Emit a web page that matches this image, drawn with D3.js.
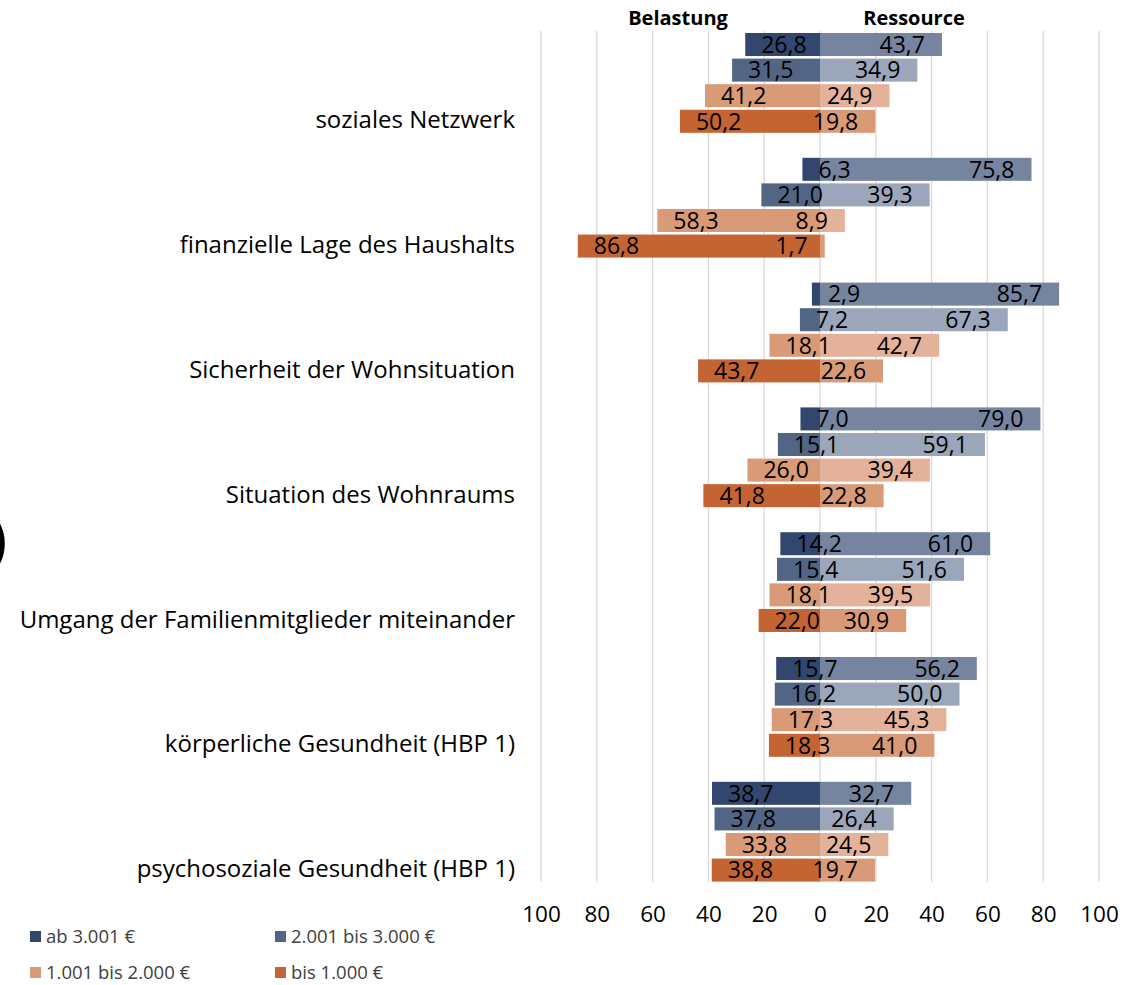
<!DOCTYPE html>
<html>
<head>
<meta charset="utf-8">
<script src="https://cdn.jsdelivr.net/npm/d3@7"></script>
<style>
  html, body { margin: 0; padding: 0; background: #fff; }
  svg { display: block; font-family: "Open Sans", "Noto Sans", sans-serif; }
</style>
</head>
<body>
<svg id="chart" width="1143" height="985"></svg>
<script>
// Lebensbereiche (von oben nach unten)
const categories = [
  "soziales Netzwerk",
  "finanzielle Lage des Haushalts",
  "Sicherheit der Wohnsituation",
  "Situation des Wohnraums",
  "Umgang der Familienmitglieder miteinander",
  "körperliche Gesundheit (HBP 1)",
  "psychosoziale Gesundheit (HBP 1)"
];

// Einkommensgruppen
const groups = ["ab 3.001 €", "2.001 bis 3.000 €", "1.001 bis 2.000 €", "bis 1.000 €"];

// Anteil "Belastung" in % je Bereich, Reihenfolge wie groups
const belastung = [
  [26.8, 31.5, 41.2, 50.2],
  [6.3, 21.0, 58.3, 86.8],
  [2.9, 7.2, 18.1, 43.7],
  [7.0, 15.1, 26.0, 41.8],
  [14.2, 15.4, 18.1, 22.0],
  [15.7, 16.2, 17.3, 18.3],
  [38.7, 37.8, 33.8, 38.8]
];

// Anteil "Ressource" in % je Bereich
const ressource = [
  [43.7, 34.9, 24.9, 19.8],
  [75.8, 39.3, 8.9, 1.7],
  [85.7, 67.3, 42.7, 22.6],
  [79.0, 59.1, 39.4, 22.8],
  [61.0, 51.6, 39.5, 30.9],
  [56.2, 50.0, 45.3, 41.0],
  [32.7, 26.4, 24.5, 19.7]
];

const tickValues = [-100, -80, -60, -40, -20, 0, 20, 40, 60, 80, 100];

const colorsLeft  = ["#32466E", "#536584", "#D99A78", "#C46432"];
const colorsRight = ["#76849F", "#9BA6BB", "#E4B29A", "#D99A78"];

const svg = d3.select("#chart");
const fmt = v => d3.format(".1f")(v).replace(".", ",");

const x = d3.scaleLinear().domain([-100, 100]).range([541, 1099]);
const yCat = d3.scaleBand().domain(categories).range([33, 906.6]).padding(0);
const yRow = d3.scaleBand().domain(groups).range([0, 99.8]).paddingInner(0.1).paddingOuter(0);

const gridTop = 31, gridBottom = 882;

// vertical gridlines
svg.append("g").selectAll("line")
  .data(tickValues)
  .join("line")
  .attr("x1", d => x(d)).attr("x2", d => x(d))
  .attr("y1", gridTop).attr("y2", gridBottom)
  .attr("stroke", "#D9D9D9").attr("stroke-width", 1.3);

// x axis tick labels (absolute values)
const axis = d3.axisBottom(x).tickValues(tickValues).tickFormat(d => Math.abs(d)).tickSize(0).tickPadding(0);
const gAxis = svg.append("g").attr("transform", `translate(0, ${gridBottom + 24})`).call(axis);
gAxis.select(".domain").remove();
gAxis.selectAll("text")
  .attr("font-size", 22.5).attr("fill", "#000")
  .attr("font-family", "'Open Sans', sans-serif")
  .attr("dy", "0.71em");

// flat records for bars
const recs = [];
categories.forEach((c, ci) => {
  groups.forEach((g, gi) => {
    recs.push({ c, g, gi, left: belastung[ci][gi], right: ressource[ci][gi] });
  });
});

const barY = d => yCat(d.c) + yRow(d.g);
const bh = yRow.bandwidth();

const gBars = svg.append("g");
// Belastung (links)
gBars.selectAll("rect.left")
  .data(recs).join("rect").attr("class", "left")
  .attr("x", d => x(-d.left))
  .attr("width", d => x(0) - x(-d.left))
  .attr("y", barY).attr("height", bh)
  .attr("fill", d => colorsLeft[d.gi]);
// Ressource (rechts)
gBars.selectAll("rect.right")
  .data(recs).join("rect").attr("class", "right")
  .attr("x", x(0))
  .attr("width", d => x(d.right) - x(0))
  .attr("y", barY).attr("height", bh)
  .attr("fill", d => colorsRight[d.gi]);

// value labels, inside end of each bar
const gLab = svg.append("g").attr("font-size", 23).attr("fill", "#000");
gLab.selectAll("text.l")
  .data(recs).join("text").attr("class", "l")
  .attr("x", d => x(-d.left) + 16)
  .attr("y", d => barY(d) + bh / 2)
  .attr("dy", "0.36em")
  .attr("text-anchor", "start")
  .text(d => fmt(d.left));
gLab.selectAll("text.r")
  .data(recs).join("text").attr("class", "r")
  .attr("x", d => x(d.right) - 17)
  .attr("y", d => barY(d) + bh / 2)
  .attr("dy", "0.36em")
  .attr("text-anchor", "end")
  .text(d => fmt(d.right));

// category labels
svg.append("g").selectAll("text")
  .data(categories).join("text")
  .attr("x", 515)
  .attr("y", d => yCat(d) + yRow(groups[3]) + bh / 2)
  .attr("dy", "0.3em")
  .attr("text-anchor", "end")
  .attr("font-size", 24)
  .attr("fill", "#000")
  .text(d => d);

// headers
svg.append("text").attr("x", 678).attr("y", 25).attr("text-anchor", "middle")
  .attr("font-size", 20).attr("font-weight", "bold").attr("fill", "#000").text("Belastung");
svg.append("text").attr("x", 914).attr("y", 25).attr("text-anchor", "middle")
  .attr("font-size", 20).attr("font-weight", "bold").attr("fill", "#000").text("Ressource");

// axis title fragment at the left edge
svg.append("text").attr("x", -10).attr("y", 560)
  .attr("font-size", 58).attr("fill", "#000").text(")");

// legend
const legendPos = [[30, 937], [275, 937], [30, 973], [275, 973]];
const gLeg = svg.append("g");
groups.forEach((g, i) => {
  const [lx, ly] = legendPos[i];
  gLeg.append("rect").attr("x", lx).attr("y", ly - 6).attr("width", 11).attr("height", 11)
    .attr("fill", colorsLeft[i]);
  gLeg.append("text").attr("x", lx + 16).attr("y", ly).attr("dy", "0.35em")
    .attr("font-size", 18.5).attr("fill", "#404040").text(g);
});
</script>
</body>
</html>
